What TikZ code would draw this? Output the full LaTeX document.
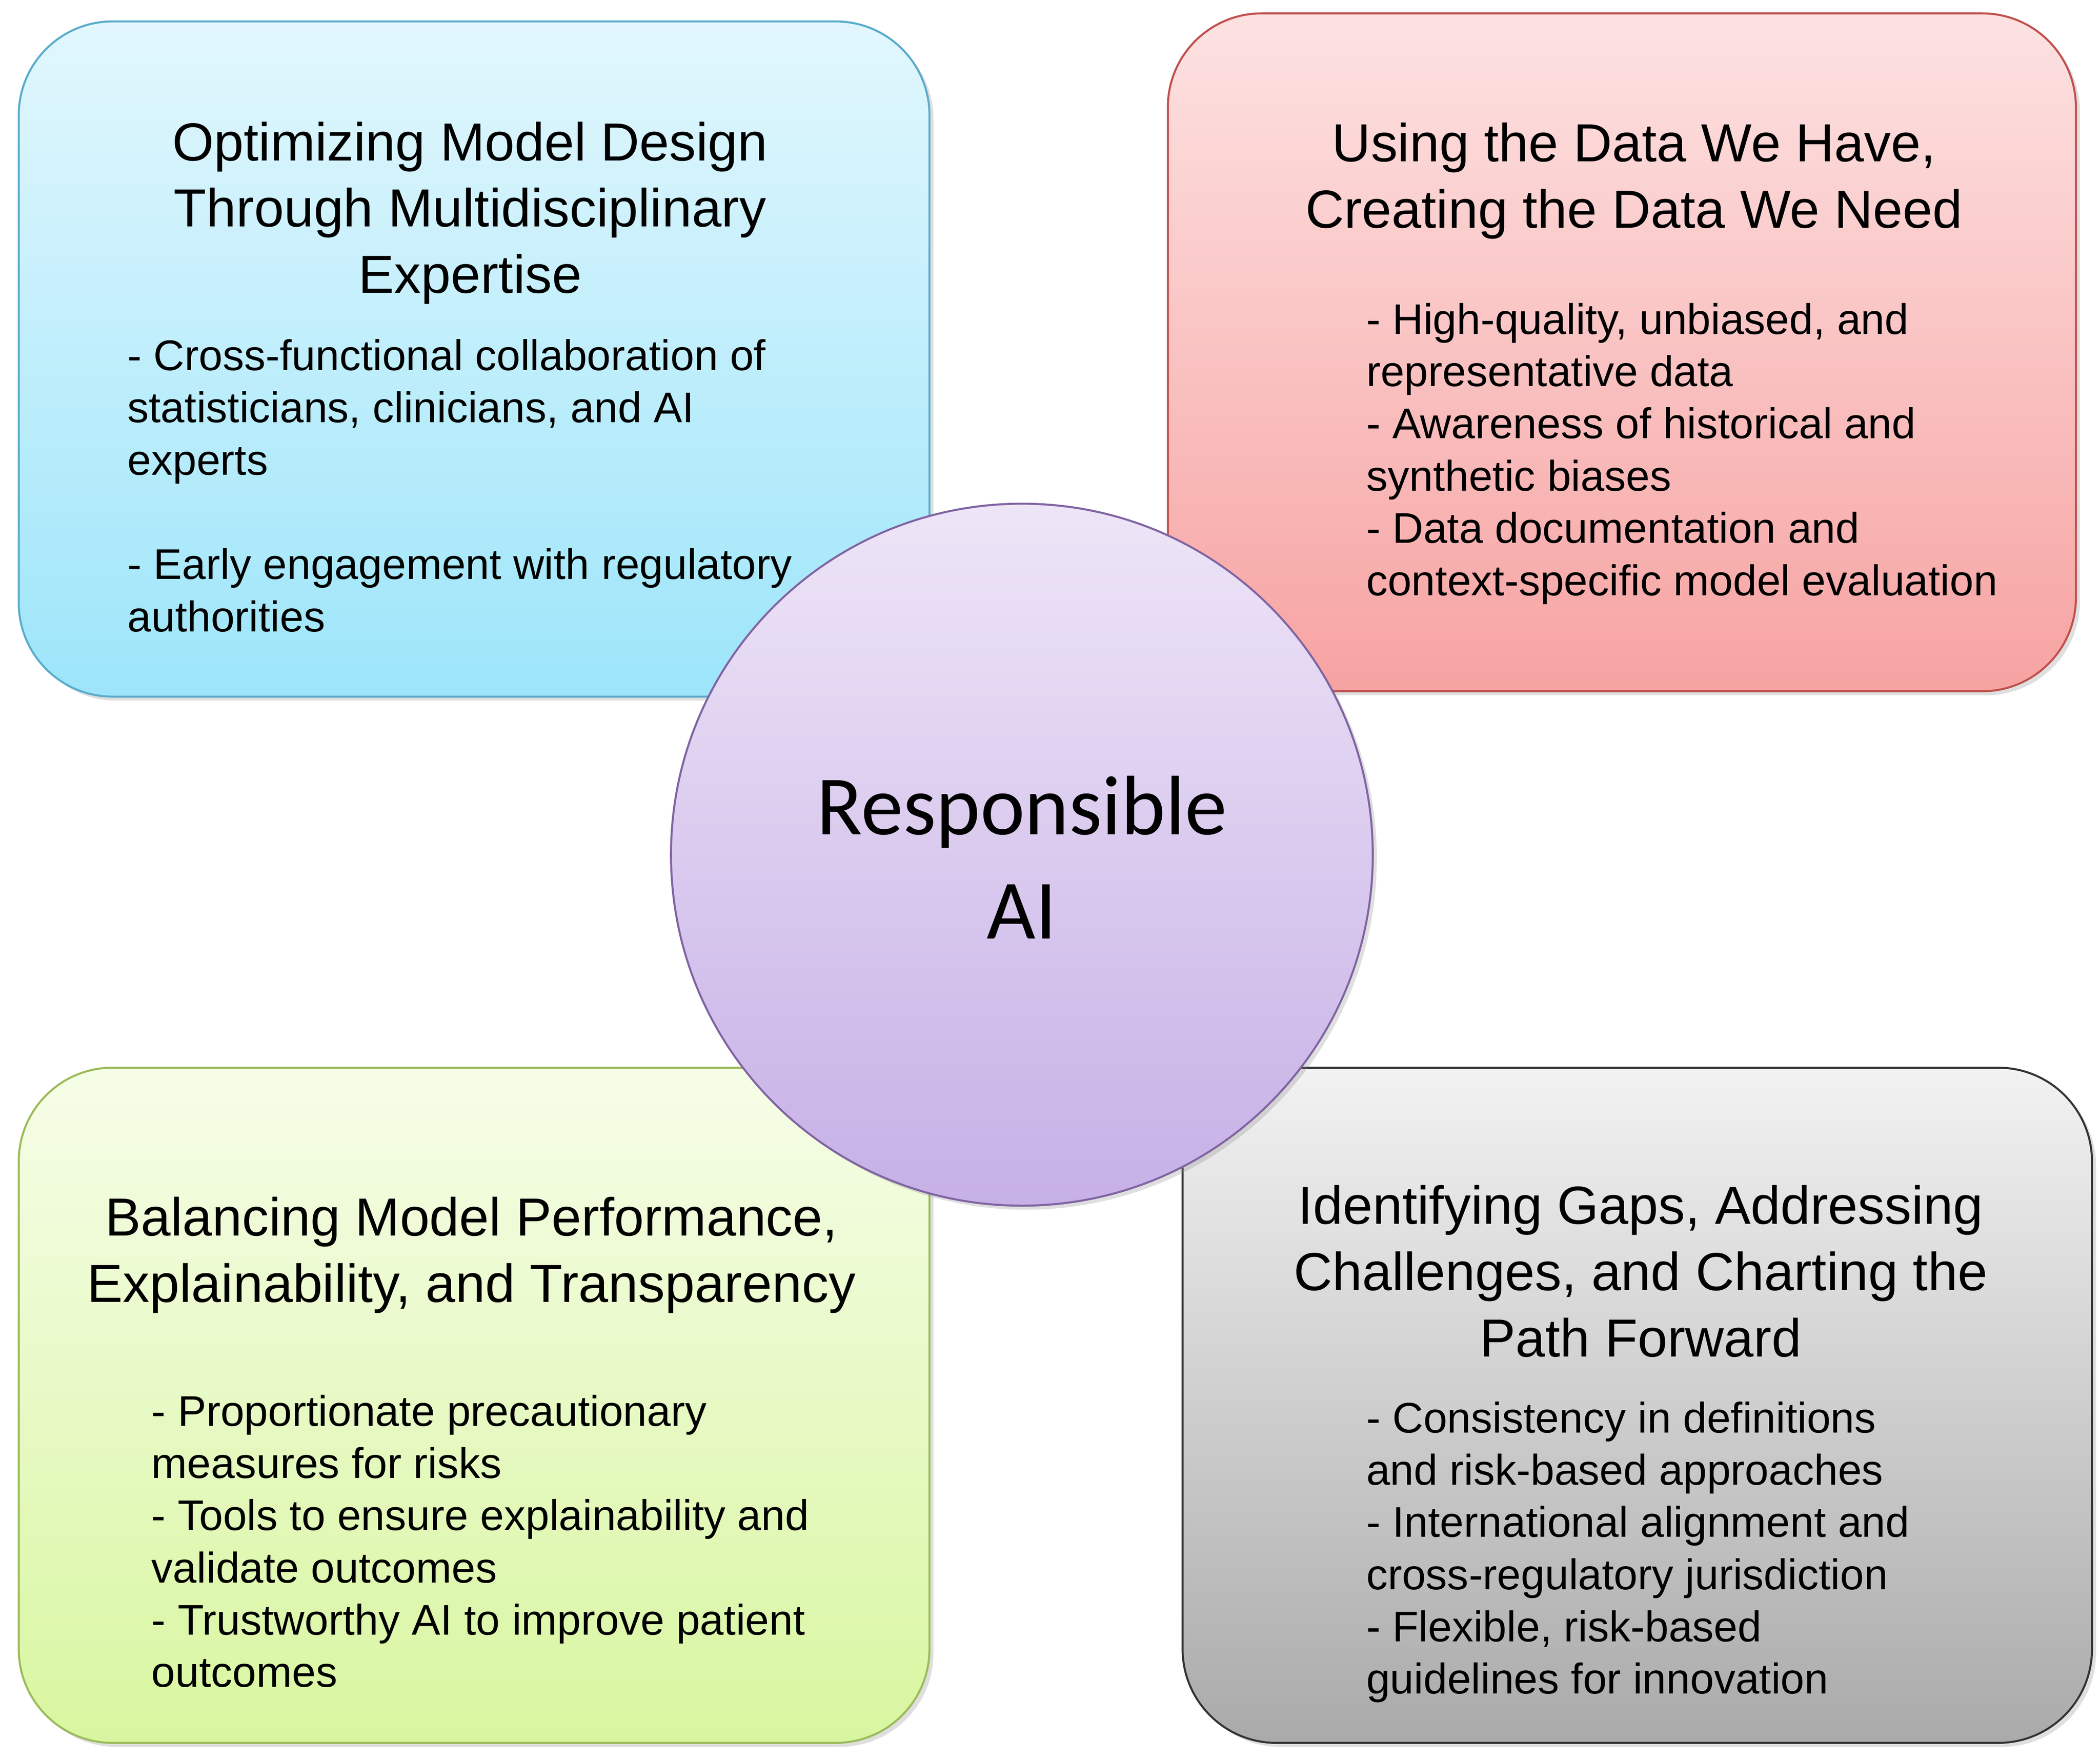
\documentclass[tikz,border=0pt]{standalone}
\usepackage{fontspec}
\setmainfont{Liberation Sans}
\newfontfamily\circfont{Carlito}
\usetikzlibrary{shadows}
\definecolor{bbord}{HTML}{5AACCC}
\definecolor{rbord}{HTML}{C0504D}
\definecolor{gbord}{HTML}{9BBB59}
\definecolor{kbord}{HTML}{333333}
\definecolor{cbord}{HTML}{8064A2}
\definecolor{btop}{HTML}{E2F7FD}
\definecolor{bbot}{HTML}{9DE5FA}
\definecolor{rtop}{HTML}{FDE2E2}
\definecolor{rbot}{HTML}{F6A3A2}
\definecolor{gtop}{HTML}{F6FDE8}
\definecolor{gbot}{HTML}{D8F6A0}
\definecolor{ktop}{HTML}{F2F2F2}
\definecolor{kbot}{HTML}{AAAAAA}
\definecolor{ctop}{HTML}{EEE5F7}
\definecolor{cbot}{HTML}{C6B0E6}
\tikzset{
 box/.style={rounded corners=70pt, line width=1.5pt, drop shadow={opacity=0.25,shadow xshift=3pt,shadow yshift=-3pt}},
 ttl/.style={align=center, inner sep=0, font=\fontsize{40}{49.5}\selectfont},
 bod/.style={align=left, inner sep=0, anchor=north west, font=\fontsize{32}{39}\selectfont},
}
\begin{document}
\begin{tikzpicture}[x=1pt,y=-1pt]
\useasboundingbox (0,0) rectangle (1568,1313);
\path[box, draw=bbord, top color=btop, bottom color=bbot] (14,16) rectangle (694,520);
\path[box, draw=rbord, top color=rtop, bottom color=rbot] (872,10) rectangle (1550,516);
\path[box, draw=gbord, top color=gtop, bottom color=gbot] (14,797) rectangle (694,1301);
\path[box, draw=kbord, top color=ktop, bottom color=kbot] (883,797) rectangle (1562,1301);

\node[ttl] (t1) at (351,159) {Optimizing Model Design\\Through Multidisciplinary\\Expertise};
\node[bod] (b1) at (95,253) {- Cross-functional collaboration of\\statisticians, clinicians, and AI\\experts\\[39pt]- Early engagement with regulatory\\authorities};

\node[ttl] (t2) at (1220,135) {Using the Data We Have,\\Creating the Data We Need};
\node[bod] (b2) at (1020,226) {- High-quality, unbiased, and\\representative data\\- Awareness of historical and\\synthetic biases\\- Data documentation and\\context-specific model evaluation};

\node[ttl] (t3) at (352,937) {Balancing Model Performance,\\Explainability, and Transparency};
\node[bod] (b3) at (113,1041) {- Proportionate precautionary\\measures for risks\\- Tools to ensure explainability and\\validate outcomes\\- Trustworthy AI to improve patient\\outcomes};

\node[ttl] (t4) at (1225,949) {Identifying Gaps, Addressing\\Challenges, and Charting the\\Path Forward};
\node[bod] (b4) at (1020,1046) {- Consistency in definitions\\and risk-based approaches\\- International alignment and\\cross-regulatory jurisdiction\\- Flexible, risk-based\\guidelines for innovation};

\path[draw=cbord, line width=1.5pt, top color=ctop, bottom color=cbot, drop shadow={opacity=0.25,shadow xshift=3pt,shadow yshift=-3pt}] (763,638) circle (262);
\node[align=center, inner sep=0, font=\circfont\fontsize{63}{78}\selectfont] (c) at (763,640) {Responsible\\AI};
\end{tikzpicture}
\end{document}
